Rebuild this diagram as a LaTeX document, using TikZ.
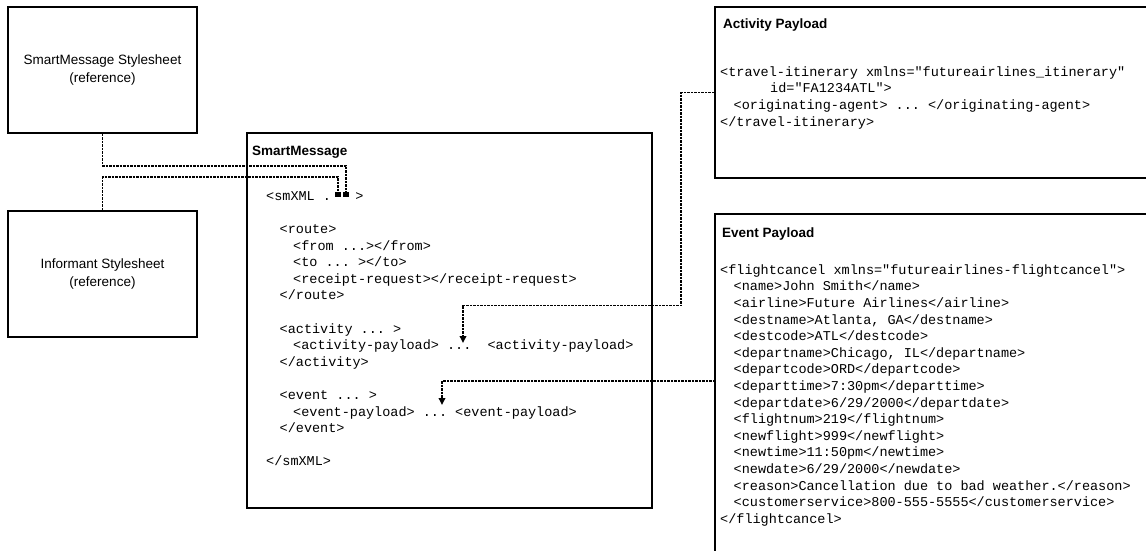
\documentclass[tikz,border=0pt]{standalone}
\usepackage{fontspec}
\setmainfont{Liberation Sans}
\setmonofont{Liberation Mono}
\usetikzlibrary{arrows.meta}

\newcommand{\ind}{\hspace*{13.5pt}}

\begin{document}
\begin{tikzpicture}[x=1pt, y=-1pt,
        sheet/.style={rectangle, draw, line width=1.6pt, minimum width=189pt, minimum height=126pt, align=center, font=\fontsize{13.5}{18}\selectfont},
        panel/.style={rectangle, draw, line width=1.6pt, inner sep=0pt},
        title/.style={anchor=base west, inner sep=0pt, font=\fontsize{13.5}{16}\selectfont\bfseries},
        code/.style={anchor=north west, inner sep=0pt, align=left, font=\fontsize{13.5}{16.6}\selectfont\ttfamily},
        link/.style={line width=1.9pt, dash pattern=on 2.5pt off 1pt},
        push/.style={link, -{Triangle[length=7pt,width=6.5pt]}},
        hook/.style={link, -{Square[length=5.5pt,width=5.5pt]}}
    ]
        \useasboundingbox (0,0) rectangle (1146,550);
        \clip (0,0) rectangle (1146,550);

        % Stylesheets
        \node[sheet] (ssheet) at (102.5,70) {SmartMessage Stylesheet\\(reference)};
        \node[sheet] (isheet) at (102.5,274) {Informant Stylesheet\\(reference)};

        % SmartMessage
        \node[panel, minimum width=405pt, minimum height=375pt] (smsg) at (449.5,320.5) {};
        \node[title] (smtitle) at (252,155) {SmartMessage};
        \node[code] (smcode) at (266,188.4) {%
            \strut<smXML .~~~>\\
            \strut\\
            \strut\ind<route>\\
            \strut\ind\ind<from ...></from>\\
            \strut\ind\ind<to ... ></to>\\
            \strut\ind\ind<receipt-request></receipt-request>\\
            \strut\ind</route>\\
            \strut\\
            \strut\ind<activity ... >\\
            \strut\ind\ind<activity-payload> ...~~<activity-payload>\\
            \strut\ind</activity>\\
            \strut\\
            \strut\ind<event ... >\\
            \strut\ind\ind<event-payload> ... <event-payload>\\
            \strut\ind</event>\\
            \strut\\
            \strut</smXML>};
        \coordinate (sqA) at (346,197);
        \coordinate (sqB) at (338,197);
        \coordinate (actdots) at (463,343);
        \coordinate (evtdots) at (442,405);

        % Activity payload
        \node[panel, minimum width=460pt, minimum height=171pt] (actpay) at (945,92.5) {};
        \node[title] (acttitle) at (723,28) {Activity Payload};
        \node[code] (actcode) at (720,64.4) {%
            \strut<travel-itinerary xmlns="futureairlines\_itinerary"\\
            \strut\hspace*{50pt}id="FA1234ATL">\\
            \strut\ind<originating-agent> ... </originating-agent>\\
            \strut</travel-itinerary>};

        % Event payload
        \node[panel, minimum width=460pt, minimum height=400pt] (evtpay) at (945,414) {};
        \node[title] (evttitle) at (722,237) {Event Payload};
        \node[code] (evtcode) at (720,262.4) {%
            \strut<flightcancel xmlns="futureairlines-flightcancel">\\
            \strut\ind<name>John Smith</name>\\
            \strut\ind<airline>Future Airlines</airline>\\
            \strut\ind<destname>Atlanta, GA</destname>\\
            \strut\ind<destcode>ATL</destcode>\\
            \strut\ind<departname>Chicago, IL</departname>\\
            \strut\ind<departcode>ORD</departcode>\\
            \strut\ind<departtime>7:30pm</departtime>\\
            \strut\ind<departdate>6/29/2000</departdate>\\
            \strut\ind<flightnum>219</flightnum>\\
            \strut\ind<newflight>999</newflight>\\
            \strut\ind<newtime>11:50pm</newtime>\\
            \strut\ind<newdate>6/29/2000</newdate>\\
            \strut\ind<reason>Cancellation due to bad weather.</reason>\\
            \strut\ind<customerservice>800-555-5555</customerservice>\\
            \strut</flightcancel>};
        \coordinate (evtport) at (715,381);

        % References
        \draw[hook] (ssheet.south) -- ++(0,32) -| (sqA);
        \draw[hook] (isheet.north) -- ++(0,-33) -| (sqB);
        \draw[push] (actpay.west) -- ++(-33,0) -- ++(0,213) -| (actdots);
        \draw[push] (evtport) -| (evtdots);
    \end{tikzpicture}
\end{document}
